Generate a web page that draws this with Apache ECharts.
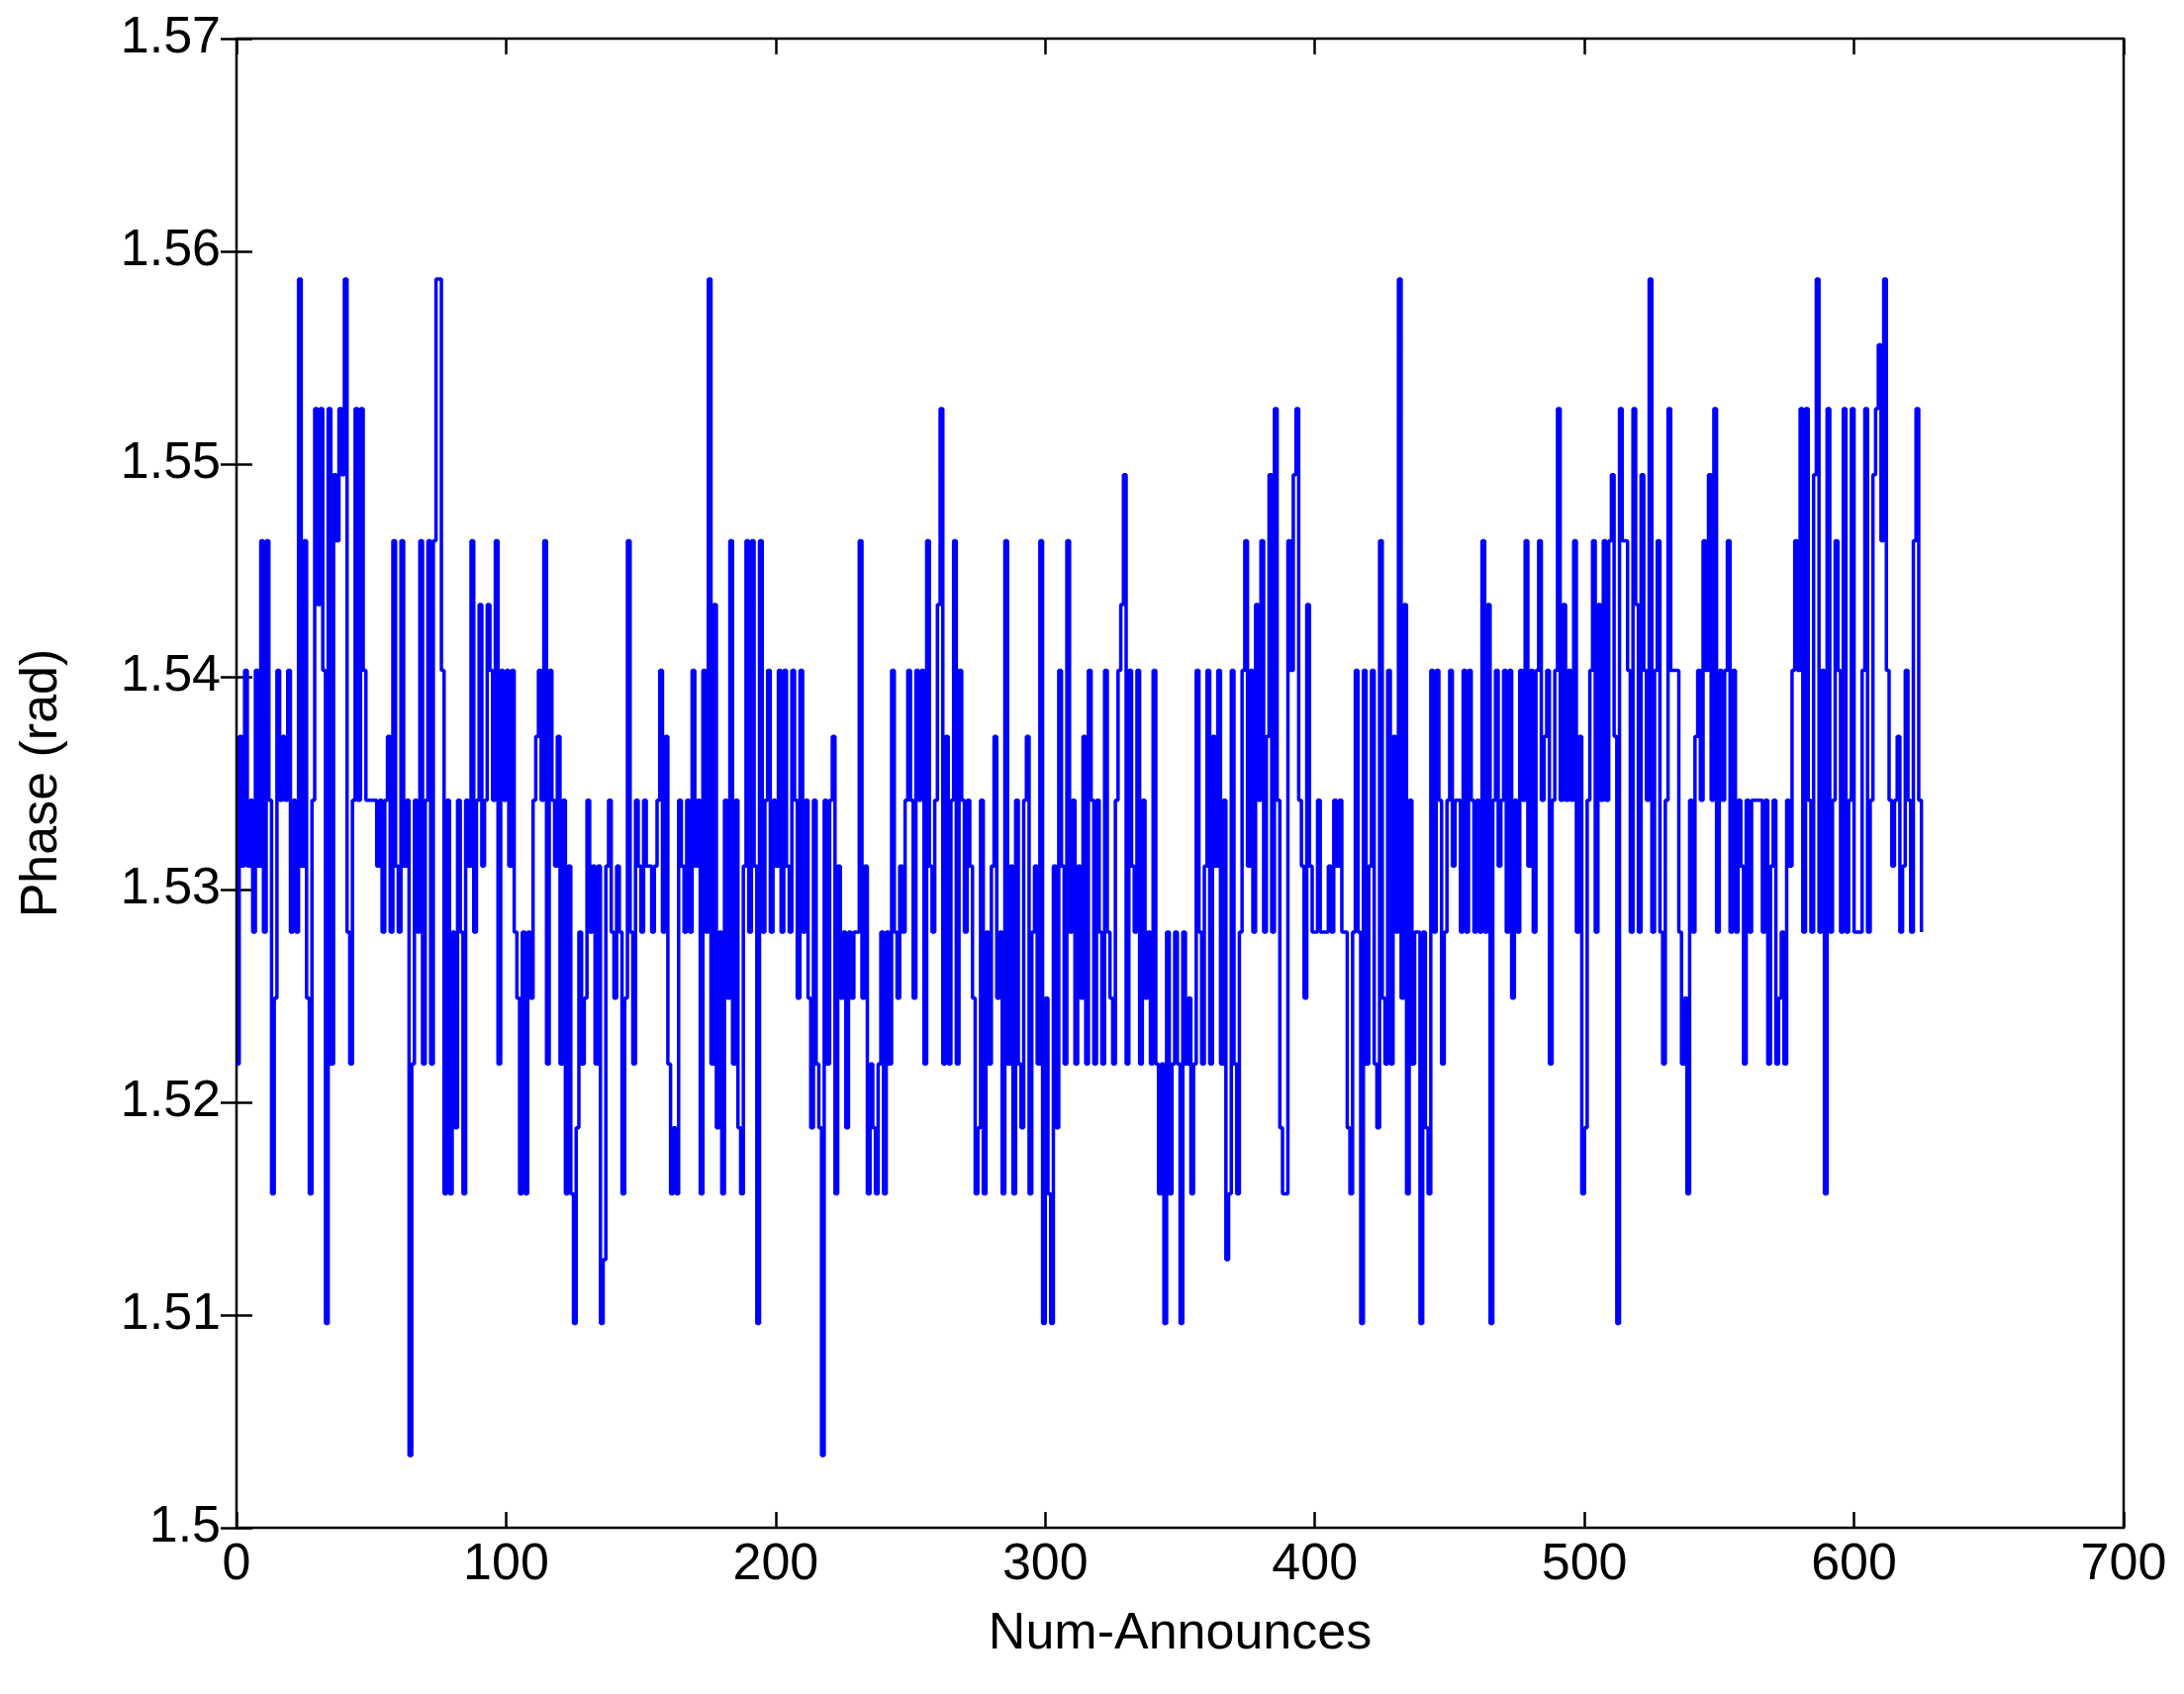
<!DOCTYPE html>
<html>
<head>
<meta charset="utf-8">
<script src="https://cdn.jsdelivr.net/npm/echarts@6/dist/echarts.min.js"></script>
<style>html,body{margin:0;background:#fff}#c{width:2207px;height:1712px}</style>
</head>
<body>
<div id="c"></div>
<script>
// quantized phase levels (rad)
const levels = [1.5034, 1.5065, 1.5096, 1.5126, 1.5157, 1.5188, 1.5218, 1.5249, 1.5280,
  1.5311, 1.5342, 1.5372, 1.5403, 1.5434, 1.5464, 1.5495, 1.5526, 1.5556, 1.5587];

// level index per announce, in order
const levelIdx = [
  6,11,9,12,9,10,8,12,9,14,8,14,10,4,7,12,10,11,10,12,8,10,8,18,9,
  14,7,4,10,16,13,16,12,2,16,6,15,14,16,15,18,8,6,10,16,10,16,12,10,10,
  10,10,9,10,8,10,11,8,14,9,8,14,9,10,0,6,10,8,14,6,10,14,6,14,18,
  18,12,4,10,4,8,5,10,8,4,10,9,14,8,10,13,9,10,13,12,10,14,6,12,10,
  12,9,12,8,7,4,8,4,8,7,10,11,12,10,14,6,12,10,9,11,6,10,4,9,4,
  2,5,8,6,7,10,8,9,6,9,2,3,9,10,8,7,9,8,4,7,14,8,6,10,9,
  8,10,9,9,8,9,10,12,8,11,6,4,5,4,10,9,8,10,8,12,9,10,4,12,8,
  18,6,13,5,8,4,10,7,14,6,10,5,4,9,14,8,14,9,2,14,8,10,12,8,10,
  9,12,8,12,9,8,12,10,7,12,8,10,7,5,10,6,5,0,10,6,10,11,4,9,7,
  8,5,8,7,8,8,14,7,9,4,6,5,4,6,8,4,8,6,12,8,7,9,8,10,12,
  10,7,12,10,12,6,14,9,8,10,13,16,6,11,6,10,14,6,12,10,8,10,9,7,4,
  5,10,4,8,6,9,11,7,8,4,14,6,9,4,10,6,5,10,11,4,8,9,6,14,2,
  7,4,2,9,5,12,9,6,14,8,10,6,9,7,11,6,12,10,6,10,8,6,12,8,7,
  6,10,12,13,15,6,12,9,8,12,6,10,7,8,6,12,6,4,6,2,8,4,6,8,6,
  2,8,6,7,4,6,12,8,6,9,12,6,11,9,12,6,10,3,4,12,6,4,8,12,14,
  9,12,8,13,10,14,8,11,15,8,16,10,5,4,4,14,12,15,16,10,9,7,13,9,8,
  8,10,8,8,8,9,8,10,9,10,8,8,5,4,8,12,8,2,12,6,9,12,6,5,14,
  7,6,12,6,11,8,18,7,13,4,10,6,8,8,2,8,5,4,12,8,12,10,6,8,10,
  12,9,10,10,8,12,8,12,10,8,10,8,14,8,13,2,10,12,9,10,12,8,12,7,10,
  8,12,10,14,9,12,8,12,14,10,11,12,6,10,12,16,10,13,10,12,10,14,8,11,4,
  5,10,12,14,8,13,10,14,10,14,15,11,2,16,14,14,12,8,16,13,8,15,12,10,18,
  8,12,14,8,6,10,16,12,12,12,8,6,7,4,10,8,11,12,10,14,12,15,10,16,8,
  12,10,12,14,8,12,8,10,9,6,10,8,10,10,10,10,8,10,6,9,10,6,7,8,6,
  10,9,12,14,12,16,8,16,10,8,15,18,8,12,4,16,8,10,14,12,8,16,8,10,16,
  8,8,8,12,16,8,10,15,16,17,14,18,12,10,9,10,11,8,9,12,10,8,14,16,10,8
];

const seriesData = levelIdx.map((k, i) => [i, levels[k]]);

const font = 'Liberation Sans, Arial, sans-serif';
const label = { color: '#000', fontSize: 52, fontFamily: font };
const tick = { show: true, inside: true, length: 16, lineStyle: { color: '#000', width: 2.5 } };
const noLine = { show: false };

const chart = echarts.init(document.getElementById('c'));
chart.setOption({
  animation: false,
  grid: { left: 239, right: 61, top: 39, bottom: 168, show: true, borderColor: '#000', borderWidth: 2.5 },
  xAxis: [
    { type: 'value', min: 0, max: 700, interval: 100, position: 'bottom',
      name: 'Num-Announces', nameLocation: 'middle', nameGap: 82,
      nameTextStyle: label, axisLabel: { ...label, margin: 12 },
      axisLine: noLine, axisTick: tick, splitLine: noLine },
    { type: 'value', min: 0, max: 700, interval: 100, position: 'top',
      axisLabel: noLine, axisLine: noLine, axisTick: tick, splitLine: noLine }
  ],
  yAxis: [
    { type: 'value', min: 1.5, max: 1.57, interval: 0.01, position: 'left',
      name: 'Phase (rad)', nameLocation: 'middle', nameGap: 170,
      nameTextStyle: label, axisLabel: { ...label, margin: 16 },
      axisLine: noLine, axisTick: tick, splitLine: noLine },
    { type: 'value', min: 1.5, max: 1.57, interval: 0.01, position: 'right',
      axisLabel: noLine, axisLine: noLine, axisTick: tick, splitLine: noLine }
  ],
  series: [{
    type: 'line', step: 'end', data: seriesData, showSymbol: false,
    lineStyle: { color: '#0000ff', width: 3.5 }, itemStyle: { color: '#0000ff' }
  }]
});
</script>
</body>
</html>
